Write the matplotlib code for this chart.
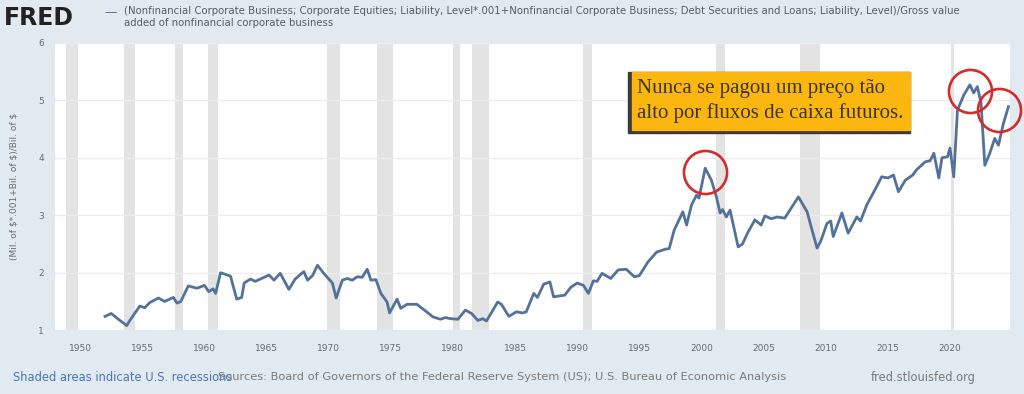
import matplotlib.pyplot as plt
import matplotlib.patches as mpatches

# Ratio series (year, value)
years = [1952.0, 1952.5, 1953.2, 1953.75, 1954.0, 1954.8, 1955.2, 1955.6, 1956.3, 1956.8,
         1957.5, 1957.8, 1958.1, 1958.7, 1959.4, 1960.0, 1960.35, 1960.7, 1960.9, 1961.3,
         1962.1, 1962.6, 1963.0, 1963.2, 1963.7, 1964.1, 1964.5, 1965.2, 1965.6, 1966.1,
         1966.8, 1967.3, 1968.0, 1968.3, 1968.7, 1969.1, 1969.6, 1970.3, 1970.6, 1971.1,
         1971.5, 1971.9, 1972.3, 1972.7, 1973.1, 1973.4, 1973.8, 1974.2, 1974.7, 1974.9,
         1975.5, 1975.8, 1976.3, 1977.1, 1977.7, 1978.4, 1979.0, 1979.4, 1979.8, 1980.4,
         1981.0, 1981.5, 1982.0, 1982.4, 1982.7, 1983.6, 1983.9, 1984.5, 1985.1, 1985.6,
         1985.9, 1986.5, 1986.8, 1987.3, 1987.8, 1988.1, 1989.0, 1989.5, 1990.0, 1990.5,
         1990.9, 1991.3, 1991.6, 1992.0, 1992.7, 1993.3, 1993.95, 1994.6, 1995.0, 1995.7,
         1996.4, 1997.1, 1997.4, 1997.8, 1998.5, 1998.8, 1999.2, 1999.6, 1999.8, 2000.3,
         2000.8, 2001.2, 2001.5, 2001.7, 2002.0, 2002.3, 2002.95, 2003.3, 2003.75, 2004.3,
         2004.8, 2005.1, 2005.6, 2006.1, 2006.7, 2007.3, 2007.8, 2008.5, 2008.9, 2009.3,
         2009.6, 2010.1, 2010.4, 2010.6, 2011.3, 2011.8, 2012.5, 2012.8, 2013.3, 2013.95,
         2014.5, 2015.0, 2015.45, 2015.85, 2016.4, 2017.0, 2017.3, 2018.0, 2018.4, 2018.7,
         2019.1, 2019.35, 2019.8, 2020.0, 2020.3, 2020.6, 2021.1, 2021.6, 2021.9, 2022.2,
         2022.5, 2022.8, 2023.2, 2023.6, 2023.9, 2024.3, 2024.7]
values = [1.24, 1.29, 1.17, 1.08, 1.17, 1.42, 1.39, 1.48, 1.56, 1.50,
          1.57, 1.47, 1.50, 1.77, 1.73, 1.78, 1.67, 1.72, 1.64, 2.00,
          1.94, 1.54, 1.57, 1.82, 1.89, 1.85, 1.89, 1.96, 1.87, 1.99,
          1.71, 1.89, 2.02, 1.87, 1.95, 2.13, 1.99, 1.82, 1.56, 1.87,
          1.90, 1.87, 1.93, 1.92, 2.06, 1.87, 1.88, 1.64, 1.49, 1.30,
          1.54, 1.38, 1.45, 1.45, 1.35, 1.23, 1.19, 1.22, 1.20, 1.19,
          1.35, 1.29, 1.17, 1.20, 1.16, 1.49, 1.45, 1.24, 1.32, 1.30,
          1.32, 1.64, 1.57, 1.80, 1.84, 1.58, 1.61, 1.75, 1.82, 1.78,
          1.64, 1.86, 1.85, 1.99, 1.90, 2.05, 2.06, 1.93, 1.95, 2.19,
          2.36, 2.41, 2.42, 2.74, 3.06, 2.83, 3.18, 3.35, 3.30, 3.82,
          3.61, 3.32, 3.04, 3.10, 2.97, 3.09, 2.45, 2.50, 2.71, 2.92,
          2.83, 2.99, 2.94, 2.97, 2.95, 3.15, 3.32, 3.06, 2.74, 2.43,
          2.55, 2.86, 2.90, 2.63, 3.04, 2.69, 2.97, 2.90, 3.18, 3.44,
          3.67, 3.65, 3.70, 3.41, 3.61, 3.70, 3.79, 3.93, 3.95, 4.08,
          3.65, 4.00, 4.02, 4.17, 3.67, 4.83, 5.09, 5.27, 5.13, 5.24,
          4.95, 3.87, 4.08, 4.34, 4.22, 4.60, 4.89]

# NBER recessions (start, end)
rec_start = [1948.9, 1953.55, 1957.6, 1960.3, 1969.9, 1973.85, 1980.0, 1981.5, 1990.5, 2001.2, 2007.9, 2020.1]
rec_end = [1949.8, 1954.4, 1958.3, 1961.1, 1970.9, 1975.2, 1980.55, 1982.9, 1991.2, 2001.9, 2009.5, 2020.3]

xticks = list(range(1950, 2021, 5))
yticks = [1, 2, 3, 4, 5, 6]

# points circled in red: (year, value)
circle_x = [2000.3, 2021.6, 2023.95]
circle_y = [3.75, 5.17, 4.83]

bg = '#e1e9f1'
line_col = '#52729b'
grey_txt = '#6b6b6b'

fig = plt.figure(figsize=(10.24, 3.94), dpi=100, facecolor=bg)
ax = fig.add_axes([0.054, 0.162, 0.932, 0.729])
ax.set_facecolor('white')

for s, e in zip(rec_start, rec_end):
    ax.axvspan(s, e, color='#e3e3e3', lw=0, zorder=0)

ax.plot(years, values, color=line_col, lw=2.0, zorder=3)

ax.set_xlim(1948.0, 2024.8)
ax.set_ylim(1, 6)
ax.set_xticks(xticks)
ax.set_yticks(yticks)
ax.grid(axis='y', color='#ececec', lw=1, zorder=1)
ax.tick_params(axis='x', length=0, labelsize=6.5, labelcolor=grey_txt, pad=10)
ax.tick_params(axis='y', length=0, labelsize=6.5, labelcolor=grey_txt, pad=8)
for sp in ax.spines.values():
    sp.set_visible(False)
ax.set_ylabel('(Mil. of $*.001+Bil. of $)/Bil. of $', fontsize=6.5, color=grey_txt, labelpad=14)

# red circles
ax.plot(circle_x, circle_y, 'o', ms=31, mfc='none', mec='#d42a2a', mew=1.9, zorder=5, clip_on=False)

# annotation box with shadow
box_ax = [628 / 1024, 1 - 133 / 394, 282 / 1024, 61 / 394]
fig.patches.append(mpatches.Rectangle((box_ax[0], box_ax[1]), box_ax[2], box_ax[3],
                                      transform=fig.transFigure, color='#3a3a3a', zorder=6))
fig.patches.append(mpatches.Rectangle((box_ax[0] + 0.004, box_ax[1] + 0.008), box_ax[2] - 0.004, box_ax[3] - 0.008,
                                      transform=fig.transFigure, color='#fbb710', zorder=7))
fig.text(box_ax[0] + 0.009, 1 - 101 / 394, 'Nunca se pagou um preço tão\nalto por fluxos de caixa futuros.',
         family='Liberation Serif', fontsize=15, color='#3b3515', va='center', ha='left',
         linespacing=1.3, zorder=8)

# header
fig.text(0.004, 0.955, 'FRED', fontsize=17, fontweight='bold', color='#222222', va='center', family='DejaVu Sans')
fig.text(0.102, 0.968, '\u2014', fontsize=9, color=line_col, va='center')
fig.text(0.121, 0.985, '(Nonfinancial Corporate Business; Corporate Equities; Liability, Level*.001+Nonfinancial Corporate Business; Debt Securities and Loans; Liability, Level)/Gross value\nadded of nonfinancial corporate business',
         fontsize=7.3, color='#555c66', va='top', linespacing=1.3)

# footer
fig.text(0.013, 0.043, 'Shaded areas indicate U.S. recessions', fontsize=8.3, color='#4678b4', va='center')
fig.text(0.213, 0.043, 'Sources: Board of Governors of the Federal Reserve System (US); U.S. Bureau of Economic Analysis',
         fontsize=8.2, color='#7a7a7a', va='center')
fig.text(0.85, 0.043, 'fred.stlouisfed.org', fontsize=8.3, color='#7a7a7a', va='center')

fig.savefig('out.png', dpi=100, facecolor=bg)
